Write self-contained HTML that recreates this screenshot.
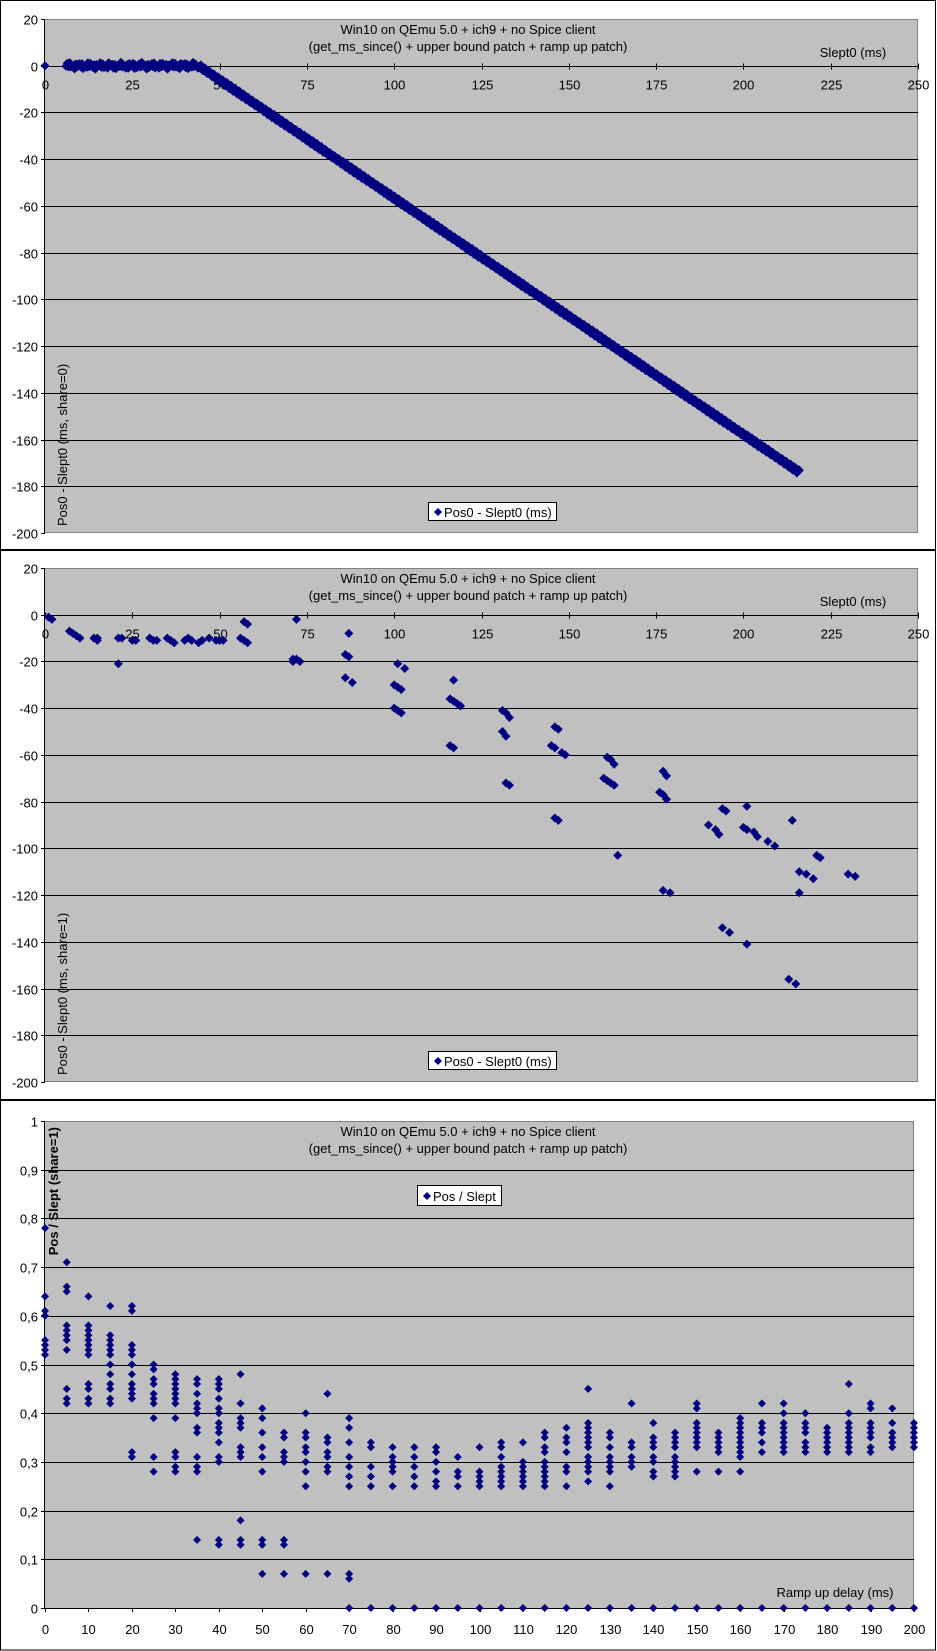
<!DOCTYPE html>
<html><head><meta charset="utf-8">
<style>
html,body{margin:0;padding:0;background:#fff;}
svg{display:block;font-family:"Liberation Sans",Arial,sans-serif;}
</style></head>
<body>
<svg id="s" width="937" height="1651" xmlns="http://www.w3.org/2000/svg">
<rect x="0" y="0" width="937" height="1651" fill="#fff"/>
<g id="g"></g>
</svg>
<script>
const NS="http://www.w3.org/2000/svg";
const g=document.getElementById('g');
function el(t,a,txt){const e=document.createElementNS(NS,t);for(const k in a)e.setAttribute(k,a[k]);if(txt!==undefined)e.textContent=txt;g.appendChild(e);return e;}
function dia(x,y,r){el('polygon',{points:`${x},${y-r} ${x+r},${y} ${x},${y+r} ${x-r},${y}`,fill:'#000080'});}

el('rect',{x:0.5,y:0.5,width:935,height:549,fill:'#fff',stroke:'#000'});
el('rect',{x:0.5,y:550.5,width:935,height:549,fill:'#fff',stroke:'#000'});
el('rect',{x:0.5,y:1100.5,width:935,height:549.5,fill:'#fff',stroke:'#000'});

function msChart(top,yt){
  const L=45,R=918,T=top,B=top+514;
  const py=v=>T+(20-v)*(B-T)/220;
  const px=v=>L+v*(R-L)/250;
  el('rect',{x:L,y:T,width:R-L,height:B-T,fill:'#c0c0c0'});
  el('line',{x1:L,y1:T+0.5,x2:R,y2:T+0.5,stroke:'#808080'});
  el('line',{x1:R-0.5,y1:T,x2:R-0.5,y2:B,stroke:'#808080'});
  el('line',{x1:L,y1:B-0.5,x2:R,y2:B-0.5,stroke:'#808080'});
  for(let v=20;v>=-200;v-=20){
    const y=Math.round(py(v))+0.5;
    if(v<20&&v>-200) el('line',{x1:L,y1:y,x2:R,y2:y,stroke:'#000'});
    el('line',{x1:L-4,y1:y,x2:L,y2:y,stroke:'#000'});
    el('text',{x:38,y:y+5,'font-size':13,'text-anchor':'end'},String(v));
  }
  el('line',{x1:L-0.5,y1:T,x2:L-0.5,y2:B,stroke:'#000'});
  const y0=Math.round(py(0))+0.5;
  for(let v=0;v<=250;v+=25){
    const x=Math.round(px(v))+0.5;
    el('line',{x1:x,y1:y0-3,x2:x,y2:y0+3,stroke:'#000'});
    el('text',{x:x,y:y0+23,'font-size':13,'text-anchor':'middle'},v);
  }
  el('text',{x:468,y:T+15,'font-size':13,'text-anchor':'middle'},'Win10 on QEmu 5.0 + ich9 + no Spice client');
  el('text',{x:468,y:T+32,'font-size':13,'text-anchor':'middle'},'(get_ms_since() + upper bound patch + ramp up patch)');
  el('text',{x:853,y:T+38,'font-size':13,'text-anchor':'middle'},'Slept0 (ms)');
  el('text',{x:0,y:0,'font-size':13,transform:`translate(67,${B-7}) rotate(-90)`},yt);
  el('rect',{x:428.5,y:T+483.5,width:128,height:18,fill:'#fff',stroke:'#000'});
  dia(438,T+493,4);
  el('text',{x:444,y:T+498,'font-size':13},'Pos0 - Slept0 (ms)');
  return {px,py};
}

let c=msChart(19,'Pos0 - Slept0 (ms, share=0)');
dia(c.px(0),c.py(0),4.5);
for(let x=6;x<=44;x+=0.35){const j=Math.sin(x*7.3)*1.0+Math.sin(x*2.1)*0.5;dia(c.px(x),c.py(j),4.5);}
for(let x=44;x<=216;x+=0.3){const yy=-(x-44)*174/172+Math.sin(x*5.1)*0.8;dia(c.px(x),c.py(yy),5);}

c=msChart(568,'Pos0 - Slept0 (ms, share=1)');
const p2=[[1,-1],[2,-2],[7,-7],[8,-8],[9,-9],[10,-10],[14,-10],[15,-11],[15,-10],[21,-21],[21,-10],[22,-10],[25,-11],[26,-11],[30,-10],[31,-11],[32,-11],[35,-10],[36,-11],[37,-12],[40,-11],[41,-10],[42,-11],[44,-12],[45,-11],[47,-10],[49,-11],[50,-11],[51,-11],[56,-10],[57,-11],[58,-12],[57,-3],[58,-4],[72,-2],[71,-19],[71,-20],[72,-19],[73,-20],[87,-8],[86,-17],[87,-18],[86,-27],[88,-29],[101,-21],[103,-23],[100,-30],[101,-31],[102,-32],[100,-40],[101,-41],[102,-42],[117,-28],[116,-36],[117,-37],[118,-38],[119,-39],[116,-56],[117,-57],[131,-41],[132,-42],[133,-44],[131,-50],[132,-52],[132,-72],[133,-73],[146,-48],[147,-49],[145,-56],[146,-57],[148,-59],[149,-60],[146,-87],[147,-88],[161,-61],[162,-62],[163,-64],[160,-70],[161,-71],[162,-72],[163,-73],[164,-103],[177,-67],[178,-69],[176,-76],[177,-77],[178,-79],[177,-118],[179,-119],[190,-90],[192,-92],[193,-94],[194,-83],[195,-84],[194,-134],[196,-136],[201,-82],[200,-91],[201,-92],[203,-93],[204,-95],[207,-97],[209,-99],[201,-141],[214,-88],[213,-156],[215,-158],[216,-119],[216,-110],[218,-111],[220,-113],[221,-103],[222,-104],[230,-111],[232,-112]];
p2.forEach(p=>dia(c.px(p[0]),c.py(p[1]),4.5));

(function(){
  const L=45,R=914,T=1121,B=1608;
  const py=v=>T+(1-v)*(B-T);
  const px=v=>L+v*(R-L)/200;
  el('rect',{x:L,y:T,width:R-L,height:B-T,fill:'#c0c0c0'});
  el('line',{x1:L,y1:T+0.5,x2:R,y2:T+0.5,stroke:'#808080'});
  el('line',{x1:R-0.5,y1:T,x2:R-0.5,y2:B,stroke:'#808080'});
  for(let i=0;i<=10;i++){
    const v=1-i/10;const y=Math.round(py(v))+0.5;
    if(i>0) el('line',{x1:L,y1:y,x2:R,y2:y,stroke:'#000'});
    el('line',{x1:L-4,y1:y,x2:L,y2:y,stroke:'#000'});
    el('text',{x:38,y:y+5,'font-size':13,'text-anchor':'end'},i==0?'1':(i==10?'0':v.toFixed(1).replace('.',',')));
  }
  el('line',{x1:L-0.5,y1:T,x2:L-0.5,y2:B,stroke:'#000'});
  for(let v=0;v<=200;v+=10){
    const x=Math.round(px(v))+0.5;
    el('line',{x1:x,y1:B,x2:x,y2:B+4,stroke:'#000'});
    el('text',{x:x,y:B+26,'font-size':13,'text-anchor':'middle'},v);
  }
  el('text',{x:468,y:T+15,'font-size':13,'text-anchor':'middle'},'Win10 on QEmu 5.0 + ich9 + no Spice client');
  el('text',{x:468,y:T+32,'font-size':13,'text-anchor':'middle'},'(get_ms_since() + upper bound patch + ramp up patch)');
  el('text',{x:835,y:B-11,'font-size':13,'text-anchor':'middle'},'Ramp up delay (ms)');
  el('text',{x:0,y:0,'font-size':13,'font-weight':'bold','text-anchor':'end',transform:`translate(58,${T+6}) rotate(-90)`},'Pos / Slept (share=1)');
  el('rect',{x:417.5,y:1185.5,width:84,height:20,fill:'#fff',stroke:'#000'});
  dia(427,1196,4);
  el('text',{x:433,y:1201,'font-size':13},'Pos / Slept');
  const d={0:[.78,.64,.61,.60,.55,.54,.53,.52],5:[.71,.66,.65,.58,.57,.56,.55,.53,.45,.43,.42],10:[.64,.58,.57,.56,.55,.54,.53,.52,.46,.45,.43,.42],15:[.62,.56,.55,.54,.53,.52,.50,.48,.46,.45,.43,.42],20:[.62,.61,.54,.53,.52,.50,.48,.46,.45,.44,.43,.32,.31],25:[.50,.49,.47,.46,.44,.43,.42,.39,.31,.28],30:[.48,.47,.46,.45,.44,.43,.42,.39,.32,.31,.29,.28],35:[.47,.46,.44,.42,.41,.40,.37,.36,.31,.29,.28,.14],40:[.47,.46,.45,.43,.41,.40,.38,.37,.36,.34,.31,.30,.14,.13],45:[.48,.42,.39,.38,.37,.33,.32,.31,.18,.14,.13],50:[.41,.39,.36,.33,.31,.28,.14,.13,.07],55:[.36,.35,.32,.31,.30,.14,.13,.07],60:[.40,.36,.35,.33,.32,.30,.28,.25,.07],65:[.44,.35,.34,.32,.31,.29,.28,.07],70:[.39,.37,.34,.31,.29,.27,.25,.07,.06,0],75:[.34,.33,.29,.27,.25,0],80:[.33,.31,.30,.29,.28,.25,0],85:[.33,.31,.29,.27,.25,0],90:[.33,.32,.30,.28,.26,.25,0],95:[.31,.28,.27,.25,0],100:[.33,.28,.27,.26,.25,0],105:[.34,.33,.31,.29,.28,.27,.26,.25,0],110:[.34,.30,.29,.28,.27,.26,.25,0],115:[.36,.35,.33,.32,.30,.29,.28,.27,.26,.25,0],120:[.37,.35,.34,.32,.29,.28,.25,0],125:[.45,.38,.37,.36,.35,.34,.33,.31,.30,.29,.28,.26,0],130:[.36,.35,.33,.31,.30,.29,.28,.25,0],135:[.42,.34,.33,.31,.30,.29,0],140:[.38,.35,.34,.33,.31,.30,.28,.27,0],145:[.36,.35,.34,.33,.31,.30,.29,.28,.27,0],150:[.42,.41,.38,.37,.36,.35,.34,.33,.28,0],155:[.36,.35,.34,.33,.32,.28,0],160:[.39,.38,.37,.36,.35,.34,.33,.32,.31,.28,0],165:[.42,.38,.37,.36,.34,.32,0],170:[.42,.40,.38,.37,.36,.35,.34,.33,.32,0],175:[.40,.38,.37,.36,.34,.33,.32,0],180:[.37,.36,.35,.34,.33,.32,0],185:[.46,.40,.38,.37,.36,.35,.34,.33,.32,0],190:[.42,.41,.38,.37,.36,.35,.33,.32,0],195:[.41,.38,.36,.35,.34,.33,0],200:[.38,.37,.36,.35,.34,.33,0]};
  for(const k in d) d[k].forEach(v=>dia(px(+k),py(v),4));
})();
</script>
</body></html>
